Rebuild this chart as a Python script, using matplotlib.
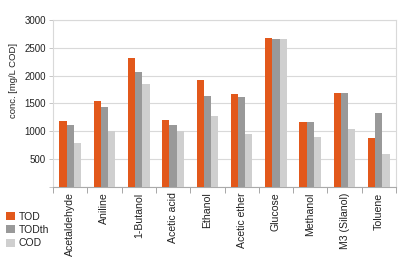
import numpy as np
import matplotlib
matplotlib.use("Agg")
import matplotlib.pyplot as plt
from matplotlib.patches import Patch

plt.rcParams['font.family'] = ['Liberation Sans', 'DejaVu Sans']

# Data
substances = ['Acetaldehyde', 'Aniline', '1-Butanol', 'Acetic acid', 'Ethanol',
              'Acetic ether', 'Glucose', 'Methanol', 'M3 (Silanol)', 'Toluene']
tod = [1190, 1550, 2310, 1210, 1930, 1670, 2675, 1170, 1680, 880]
todth = [1120, 1440, 2065, 1105, 1630, 1620, 2655, 1170, 1685, 1335]
cod = [785, 1008, 1855, 1008, 1270, 957, 2655, 903, 1050, 588]
series_names = ['TOD', 'TODth', 'COD']
colors = ['#E2581B', '#999999', '#CFCFCF']

fig = plt.figure(figsize=(4, 2.62), dpi=100)
ax = fig.add_axes([0.1325, 0.2863, 0.8575, 0.6374])

x = np.arange(len(substances))
w = 0.21
for i, (vals, c) in enumerate(zip([tod, todth, cod], colors)):
    ax.bar(x + (i - 1) * w, vals, width=w, color=c, linewidth=0, zorder=3)

ax.set_xlim(-0.5, len(substances) - 0.5)
ax.set_ylim(0, 3000)
ax.set_yticks([0, 500, 1000, 1500, 2000, 2500, 3000])
ax.set_yticklabels(['', '500', '1000', '1500', '2000', '2500', '3000'])
ax.yaxis.grid(True, color='#D9D9D9', linewidth=0.8, zorder=0)
ax.tick_params(axis='y', labelsize=7, length=3, width=0.6, color='#BBBBBB', pad=2,
               labelcolor='#222222')

ax.set_xticks(x)
ax.set_xticklabels(substances, rotation=90, fontsize=7.6, color='#222222')
ax.tick_params(axis='x', length=0, pad=4)
ax.set_xticks(np.arange(len(substances) + 1) - 0.5, minor=True)
ax.tick_params(axis='x', which='minor', length=4, width=0.6, color='#999999')

for side in ['top', 'right', 'left']:
    ax.spines[side].set_color('#D9D9D9')
    ax.spines[side].set_linewidth(0.8)
ax.spines['bottom'].set_color('#AAAAAA')
ax.spines['bottom'].set_linewidth(0.8)

ax.set_ylabel('conc. [mg/L COD]', fontsize=6.8, color='#222222')
ax.yaxis.set_label_coords(-0.103, 0.64)

handles = [Patch(facecolor=c, edgecolor='none') for c in colors]
fig.legend(handles, series_names, loc='upper left', bbox_to_anchor=(0.0, 0.215),
           frameon=False, fontsize=7.5, handlelength=0.8, handleheight=0.8,
           handletextpad=0.4, labelspacing=0.3, borderaxespad=0.2,
           labelcolor='#222222')

fig.savefig('out.png', dpi=100)
